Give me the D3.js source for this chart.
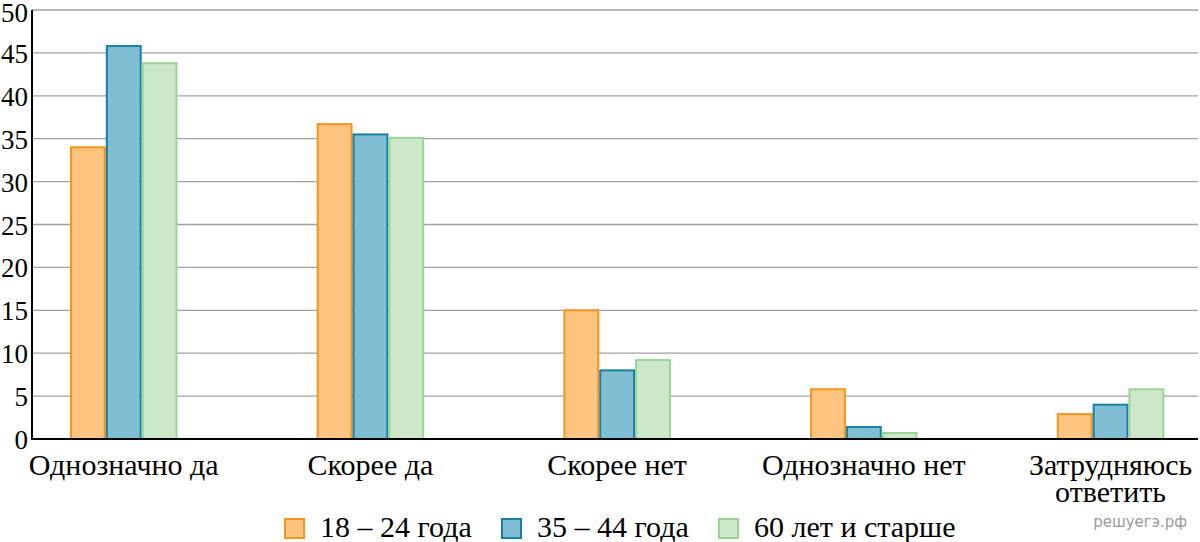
<!DOCTYPE html>
<html><head><meta charset="utf-8">
<script src="https://cdn.jsdelivr.net/npm/d3@7"></script>
</head><body style="margin:0">
<svg id="c" width="1200" height="542"></svg>
<script>
const categories = ["Однозначно да","Скорее да","Скорее нет","Однозначно нет","Затрудняюсь ответить"];
const seriesNames = ["18 – 24 года","35 – 44 года","60 лет и старше"];
const s1824 = [34, 36.7, 15, 5.8, 2.9];
const s3544 = [45.8, 35.5, 8, 1.4, 4];
const s60 = [43.8, 35.1, 9.2, 0.7, 5.8];
const yTicks = [0,5,10,15,20,25,30,35,40,45,50];

const fills = ["#ffc47f","#80bfd3","#cce8c9"];
const strokes = ["#f7931e","#1a7fa5","#99d595"];
const values = [s1824, s3544, s60];

const SERIF = '"Tinos", "Times New Roman", "Liberation Serif", "DejaVu Serif", serif';
const svg = d3.select("#c");
const pL = 32, pR = 1198, pT = 10, pB = 439;
const y = d3.scaleLinear().domain([0,50]).range([pB, pT]);
const x0 = d3.scaleBand().domain(categories).range([pL, pL + 5*246.7]);
const x1 = d3.scaleBand().domain(seriesNames).range([38, 38+107.5]);

function serifText(str, size, xPos, yPos, anchor) {
  const t = svg.append("text").attr("x", xPos).attr("y", yPos)
    .style("font-family", SERIF).style("font-size", size + "px").text(str);
  if (anchor !== "start") {
    const w = t.node().getComputedTextLength();
    t.attr("x", anchor === "middle" ? xPos - w / 2 : xPos - w);
  }
  return t;
}

// grid
svg.append("g").selectAll("line").data(yTicks.filter(d=>d>0)).join("line")
  .attr("x1", pL).attr("x2", pR).attr("y1", d=>y(d)).attr("y2", d=>y(d))
  .attr("stroke", "#a0a0a0").attr("stroke-width", 1.3);

// y labels
yTicks.forEach(d => serifText(String(d), 27, 28, Math.max(y(d)+10, 22), "end"));

// bars
const g = svg.append("g").selectAll("g").data(categories).join("g")
  .attr("transform", c=>`translate(${x0(c)},0)`);
g.selectAll("rect").data((c,i)=>seriesNames.map((s,j)=>({s, j, v: values[j][i]}))).join("rect")
  .attr("x", d=>x1(d.s)+1).attr("width", x1.bandwidth()-2)
  .attr("y", d=>y(d.v)).attr("height", d=>pB - y(d.v))
  .attr("fill", d=>fills[d.j]).attr("stroke", d=>strokes[d.j]).attr("stroke-width", 2);

// axes
svg.append("line").attr("x1", pL).attr("x2", pL).attr("y1", pT).attr("y2", pB+1)
  .attr("stroke","#000").attr("stroke-width",2);
svg.append("line").attr("x1", pL-1).attr("x2", pR).attr("y1", pB).attr("y2", pB)
  .attr("stroke","#000").attr("stroke-width",2);

// category labels
categories.forEach(c=>{
  const parts = c === "Затрудняюсь ответить" ? ["Затрудняюсь","ответить"] : [c];
  parts.forEach((p,k)=> serifText(p, 30, x0(c)+38+107.5/2, 475 + k*27, "middle"));
});

// legend
const legX = [284, 501, 718];
seriesNames.forEach((s,i)=>{
  svg.append("rect").attr("x",legX[i]+1).attr("y",519).attr("width",19).attr("height",19)
    .attr("fill",fills[i]).attr("stroke",strokes[i]).attr("stroke-width",2);
  serifText(s, 30, legX[i]+36, 537, "start");
});

// watermark
const wm = svg.append("text").attr("x",1187).attr("y",527)
  .style("font-family",'"DejaVu Sans"').style("font-size","15px").style("fill","#9a9a9a")
  .text("решуегэ.рф");
wm.attr("x", 1187 - wm.node().getComputedTextLength());
</script></body></html>
